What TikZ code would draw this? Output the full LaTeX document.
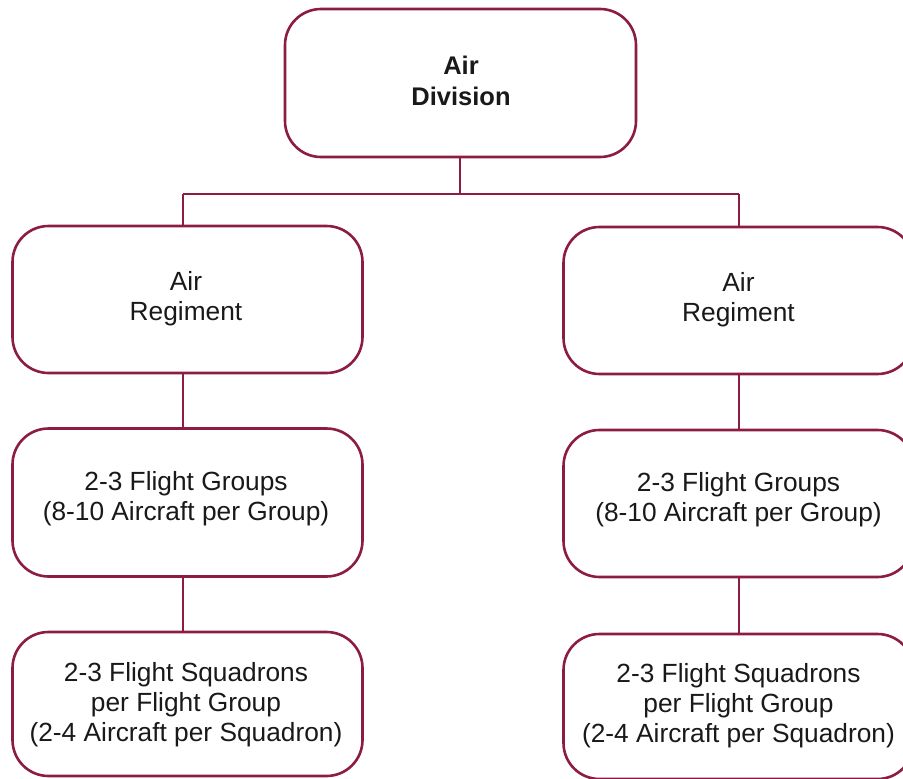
\documentclass[tikz,border=0pt]{standalone}
\usepackage{fontspec}
\setmainfont{Liberation Sans}
\definecolor{boxline}{RGB}{140,28,68}
\definecolor{txt}{RGB}{25,25,25}
\begin{document}
\begin{tikzpicture}[x=1pt,y=-1pt,
  orgbox/.style={draw=boxline, line width=2.6pt, rounded corners=36pt, fill=white,
    minimum width=350pt, minimum height=148pt, inner sep=0pt},
  boxtext/.style={inner sep=0pt, align=center, text=txt,
    font=\fontsize{26.3}{30}\selectfont},
  link/.style={draw=boxline, line width=2.4pt}]
\clip (0,0) rectangle (903,779);
\fill[white] (0,0) rectangle (903,779);
% boxes
\node[orgbox, minimum width=351pt] (div) at (460.5,83) {};
\node[orgbox, minimum height=147pt] (regL) at (187.5,299.5) {};
\node[orgbox, minimum height=147pt] (regR) at (738.5,300.5) {};
\node[orgbox, minimum height=148pt] (grpL) at (187.5,502.5) {};
\node[orgbox, minimum height=147pt] (grpR) at (738.5,503.5) {};
\node[orgbox, minimum height=144pt] (sqL) at (187.5,704) {};
\node[orgbox, minimum height=145pt] (sqR) at (738.5,706.5) {};
% texts
\node[boxtext, font=\fontsize{25.5}{31}\selectfont\bfseries] (divT) at (461,81) {Air\\Division};
\node[boxtext] (regLT) at (186,299) {Air\\Regiment};
\node[boxtext] (regRT) at (738.5,300) {Air\\Regiment};
\node[boxtext] (grpLT) at (186,499) {2-3 Flight Groups\\(8-10 Aircraft per Group)};
\node[boxtext] (grpRT) at (738.5,500) {2-3 Flight Groups\\(8-10 Aircraft per Group)};
\node[boxtext] (sqLT) at (186,705) {2-3 Flight Squadrons\\per Flight Group\\(2-4 Aircraft per Squadron)};
\node[boxtext] (sqRT) at (738.5,706) {2-3 Flight Squadrons\\per Flight Group\\(2-4 Aircraft per Squadron)};
% connectors
\coordinate (bus) at (460,194);
\coordinate (colL) at (183,194);
\coordinate (colR) at (739,194);
\draw[link] (div.south -| bus) -- (bus);
\draw[link] (colL) -- (colR);
\draw[link] (colL) -- (colL |- regL.north);
\draw[link] (colR) -- (colR |- regR.north);
\draw[link] (colL |- regL.south) -- (colL |- grpL.north);
\draw[link] (colR |- regR.south) -- (colR |- grpR.north);
\draw[link] (colL |- grpL.south) -- (colL |- sqL.north);
\draw[link] (colR |- grpR.south) -- (colR |- sqR.north);
\end{tikzpicture}
\end{document}
